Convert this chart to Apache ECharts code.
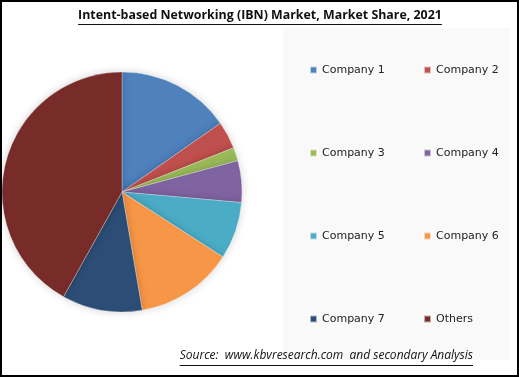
<!DOCTYPE html>
<html><head><meta charset="utf-8">
<script src="https://cdn.jsdelivr.net/npm/echarts@6/dist/echarts.min.js"></script>
<style>html,body{margin:0;padding:0;background:#fff}#c{width:519px;height:377px}</style>
</head><body><div id="c"></div>
<script>
const categories = ['Company 1','Company 2','Company 3','Company 4','Company 5','Company 6','Company 7','Others'];
const shares = [15.3, 3.7, 1.8, 5.6, 7.7, 13.2, 10.8, 41.9];
const colors = ['#4F81BD','#C0504D','#9BBB59','#8064A2','#4BACC6','#F79646','#2C4D75','#772C2A'];
const titleText = 'Intent-based Networking (IBN) Market, Market Share, 2021';
const sourceText = 'Source:  www.kbvresearch.com  and secondary Analysis';

const titleFont = 'bold 12.4px "Open Sans"';
const sourceFont = 'italic 12px "Open Sans"';
const cv = document.createElement('canvas').getContext('2d');
function tw(font, s){ cv.font = font; return cv.measureText(s).width; }
const tW = tw(titleFont, titleText), sW = tw(sourceFont, sourceText);
const tX = 260 - tW/2, sX = 473 - sW;

const chart = echarts.init(document.getElementById('c'), null, {renderer:'canvas'});
const leftCol = [0,2,4,6].map(i=>categories[i]);
const rightCol = [1,3,5,7].map(i=>categories[i]);
const legendBase = {
  orient:'vertical', itemWidth:7, itemHeight:7, itemGap:69, icon:'rect',
  textStyle:{fontFamily:'DejaVu Sans', fontSize:11, color:'#222', lineHeight:14},
  top:58, selectedMode:false
};
chart.setOption({
  animation:false,
  color: colors,
  graphic:[
    {type:'rect', shape:{x:283,y:28,width:227,height:332}, style:{fill:'#f9f9f9'}, z:-10},
    {type:'rect', shape:{x:1,y:1,width:517,height:375}, style:{fill:'none', stroke:'#000', lineWidth:2}, z:100},
    {type:'text', x:tX, y:9, style:{text:titleText, font:titleFont, fill:'#111'}},
    {type:'line', shape:{x1:tX,y1:24.5,x2:tX+tW,y2:24.5}, style:{stroke:'#111', lineWidth:1}},
    {type:'text', x:sX, y:350, style:{text:sourceText, font:sourceFont, fill:'#111'}},
    {type:'line', shape:{x1:sX,y1:365.5,x2:sX+sW,y2:365.5}, style:{stroke:'#111', lineWidth:1}}
  ],
  legend:[
    Object.assign({}, legendBase, {left:304, data:leftCol}),
    Object.assign({}, legendBase, {left:418, data:rightCol})
  ],
  series:[{
    type:'pie', center:[122,192], radius:120, startAngle:90, clockwise:true,
    label:{show:false}, labelLine:{show:false}, silent:true,
    itemStyle:{borderColor:'rgba(255,255,255,0.6)', borderWidth:0.5, shadowBlur:8, shadowColor:'rgba(0,0,0,0.18)'},
    data: categories.map((c,i)=>({name:c, value:shares[i]}))
  }]
});
</script></body></html>
